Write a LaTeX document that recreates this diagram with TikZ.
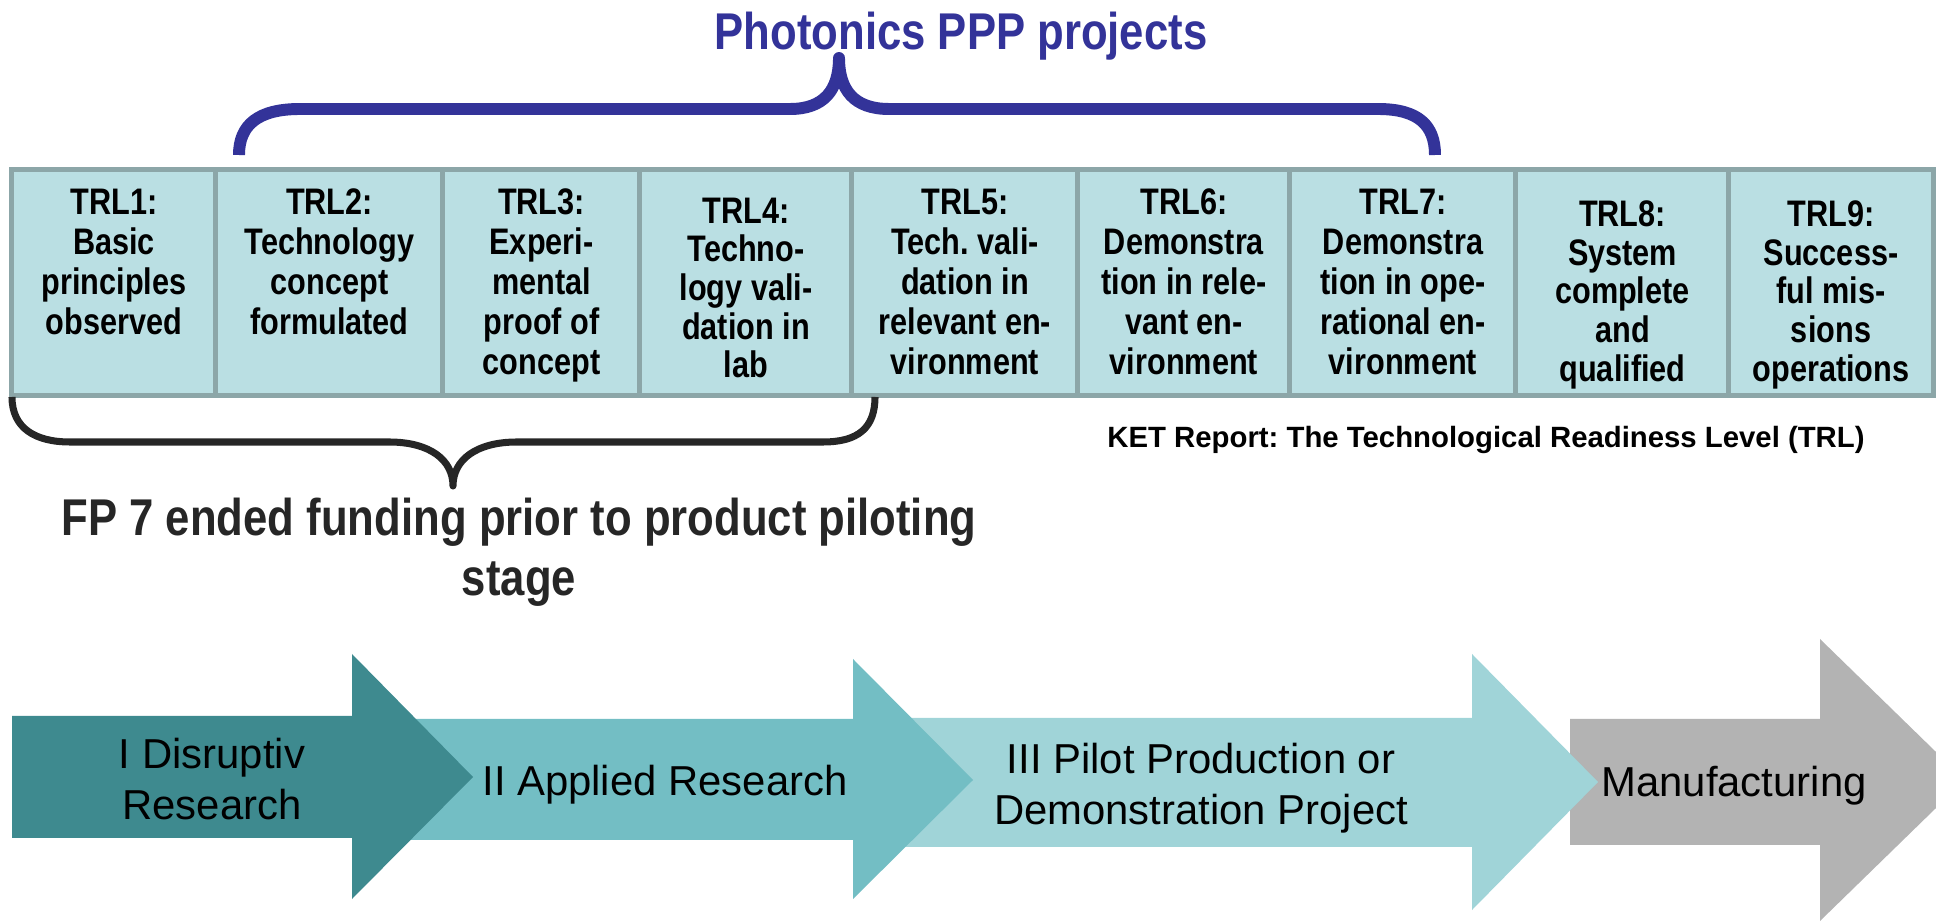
\documentclass[tikz,border=0pt]{standalone}
\usepackage{fontspec}
\setmainfont{Liberation Sans}
\newfontfamily\narrowfont[FakeStretch=0.83]{Liberation Sans}
\newfontfamily\headfont[FakeStretch=0.845]{Liberation Sans}
\frenchspacing
\definecolor{cellfill}{HTML}{BADFE3}
\definecolor{cellline}{HTML}{8CA6A8}
\definecolor{ppblue}{HTML}{333399}
\definecolor{darktext}{HTML}{262626}
\definecolor{arrowA}{HTML}{3E8A8F}
\definecolor{arrowB}{HTML}{73BEC4}
\definecolor{arrowC}{HTML}{A0D4D8}
\definecolor{arrowD}{HTML}{B3B3B3}
\tikzset{
  cell/.style={draw=cellline, fill=cellfill, line width=1.42pt, minimum height=2.26cm, inner sep=0pt, outer sep=0pt},
  celltext/.style={font=\narrowfont\fontsize{10.5pt}{11.4pt}\selectfont\bfseries, align=center, inner sep=0pt, anchor=north, text=black},
  celltextb/.style={celltext, font=\narrowfont\fontsize{10.5pt}{11.0pt}\selectfont\bfseries},
  stagetext/.style={font=\fontsize{11.9pt}{14.5pt}\selectfont, align=center, inner sep=0pt, text=black},
  titletext/.style={font=\headfont\fontsize{14.7pt}{17pt}\selectfont\bfseries, inner sep=0pt, text=ppblue},
  fptext/.style={font=\headfont\fontsize{14.7pt}{17.3pt}\selectfont\bfseries, align=center, inner sep=0pt, text=darktext},
  kettext/.style={font=\fontsize{8.34pt}{10pt}\selectfont\bfseries, inner sep=0pt, text=black},
  bluebrace/.style={draw=ppblue, line width=3.4pt, line join=round},
  blackbrace/.style={draw=darktext, line width=2pt, line join=round},
}
\begin{document}
\begin{tikzpicture}[x=0.01cm, y=-0.01cm]
\useasboundingbox (0,0) rectangle (1936,922);

% title and blue brace
\node[titletext, anchor=base] (title) at (961,50) {Photonics PPP projects};
\coordinate (bl) at (239,155);
\coordinate (br) at (1435,155);
\coordinate (btip) at (839,58);
\draw[bluebrace] (bl) .. controls (239,125) and (258,109) .. (300,109) -- (790,109)
  .. controls (824,109) and (839,90) .. (btip)
  .. controls (839,90) and (854,109) .. (889,109) -- (1378,109)
  .. controls (1418,109) and (1435,125) .. (br);

% TRL table
\node[cell, minimum width=2.04cm] (c1) at (114,282.5) {};
\node[cell, minimum width=2.27cm] (c2) at (329.5,282.5) {};
\node[cell, minimum width=1.97cm] (c3) at (541.5,282.5) {};
\node[cell, minimum width=2.12cm] (c4) at (746,282.5) {};
\node[cell, minimum width=2.26cm] (c5) at (965,282.5) {};
\node[cell, minimum width=2.12cm] (c6) at (1184,282.5) {};
\node[cell, minimum width=2.26cm] (c7) at (1403,282.5) {};
\node[cell, minimum width=2.13cm] (c8) at (1622.5,282.5) {};
\node[cell, minimum width=2.045cm] (c9) at (1831.25,282.5) {};

\node[celltext] (t1) at (114,188) {TRL1:\\Basic\\principles\\observed};
\node[celltext] (t2) at (329.5,188) {TRL2:\\Technology\\concept\\formulated};
\node[celltext] (t3) at (541.5,188) {TRL3:\\Experi-\\mental\\proof of\\concept};
\node[celltextb] (t4) at (746,197) {TRL4:\\Techno-\\logy vali-\\dation in\\lab};
\node[celltext] (t5) at (965,188) {TRL5:\\Tech. vali-\\dation in\\relevant en-\\vironment};
\node[celltext] (t6) at (1184,188) {TRL6:\\Demonstra\\tion in rele-\\vant en-\\vironment};
\node[celltext] (t7) at (1403,188) {TRL7:\\Demonstra\\tion in ope-\\rational en-\\vironment};
\node[celltextb] (t8) at (1622.5,200) {TRL8:\\System\\complete\\and\\qualified};
\node[celltextb] (t9) at (1831,200) {TRL9:\\Success-\\ful mis-\\sions\\operations};

\node[kettext, anchor=base] (ket) at (1486,448) {KET Report: The Technological Readiness Level (TRL)};

% black brace and FP7 text
\coordinate (kl) at (12,397);
\coordinate (kr) at (875,397);
\coordinate (ktip) at (453,486);
\draw[blackbrace] (kl) .. controls (12,428) and (35,442) .. (70,442) -- (389,442)
  .. controls (430,442) and (453,460) .. (ktip)
  .. controls (453,460) and (476,442) .. (517,442) -- (823,442)
  .. controls (858,442) and (875,428) .. (kr);
\node[fptext, anchor=north] (fp) at (519,497) {FP 7 ended funding prior to product piloting\\stage};

% stage arrows (drawn back to front)
\fill[arrowD] (1570,719) -- (1820,719) -- (1820,639) -- (1936,752) -- (1936,808) -- (1820,921) -- (1820,845) -- (1570,845) -- cycle;
\fill[arrowC] (900,718) -- (1472,718) -- (1472,654) -- (1598,782) -- (1472,910) -- (1472,847) -- (900,847) -- cycle;
\fill[arrowB] (400,719) -- (853,719) -- (853,659) -- (973,780) -- (853,899) -- (853,840) -- (400,840) -- cycle;
\fill[arrowA] (12,716) -- (352,716) -- (352,654) -- (473,777) -- (352,899) -- (352,838) -- (12,838) -- cycle;

\node[stagetext, anchor=north] (s1) at (212,737) {I Disruptiv\\Research};
\node[stagetext, anchor=base] (s2) at (665,796) {II Applied Research};
\node[stagetext, anchor=north] (s3) at (1201,742) {III Pilot Production or\\Demonstration Project};
\node[stagetext, anchor=base] (s4) at (1734,797) {Manufacturing};
\end{tikzpicture}
\end{document}
